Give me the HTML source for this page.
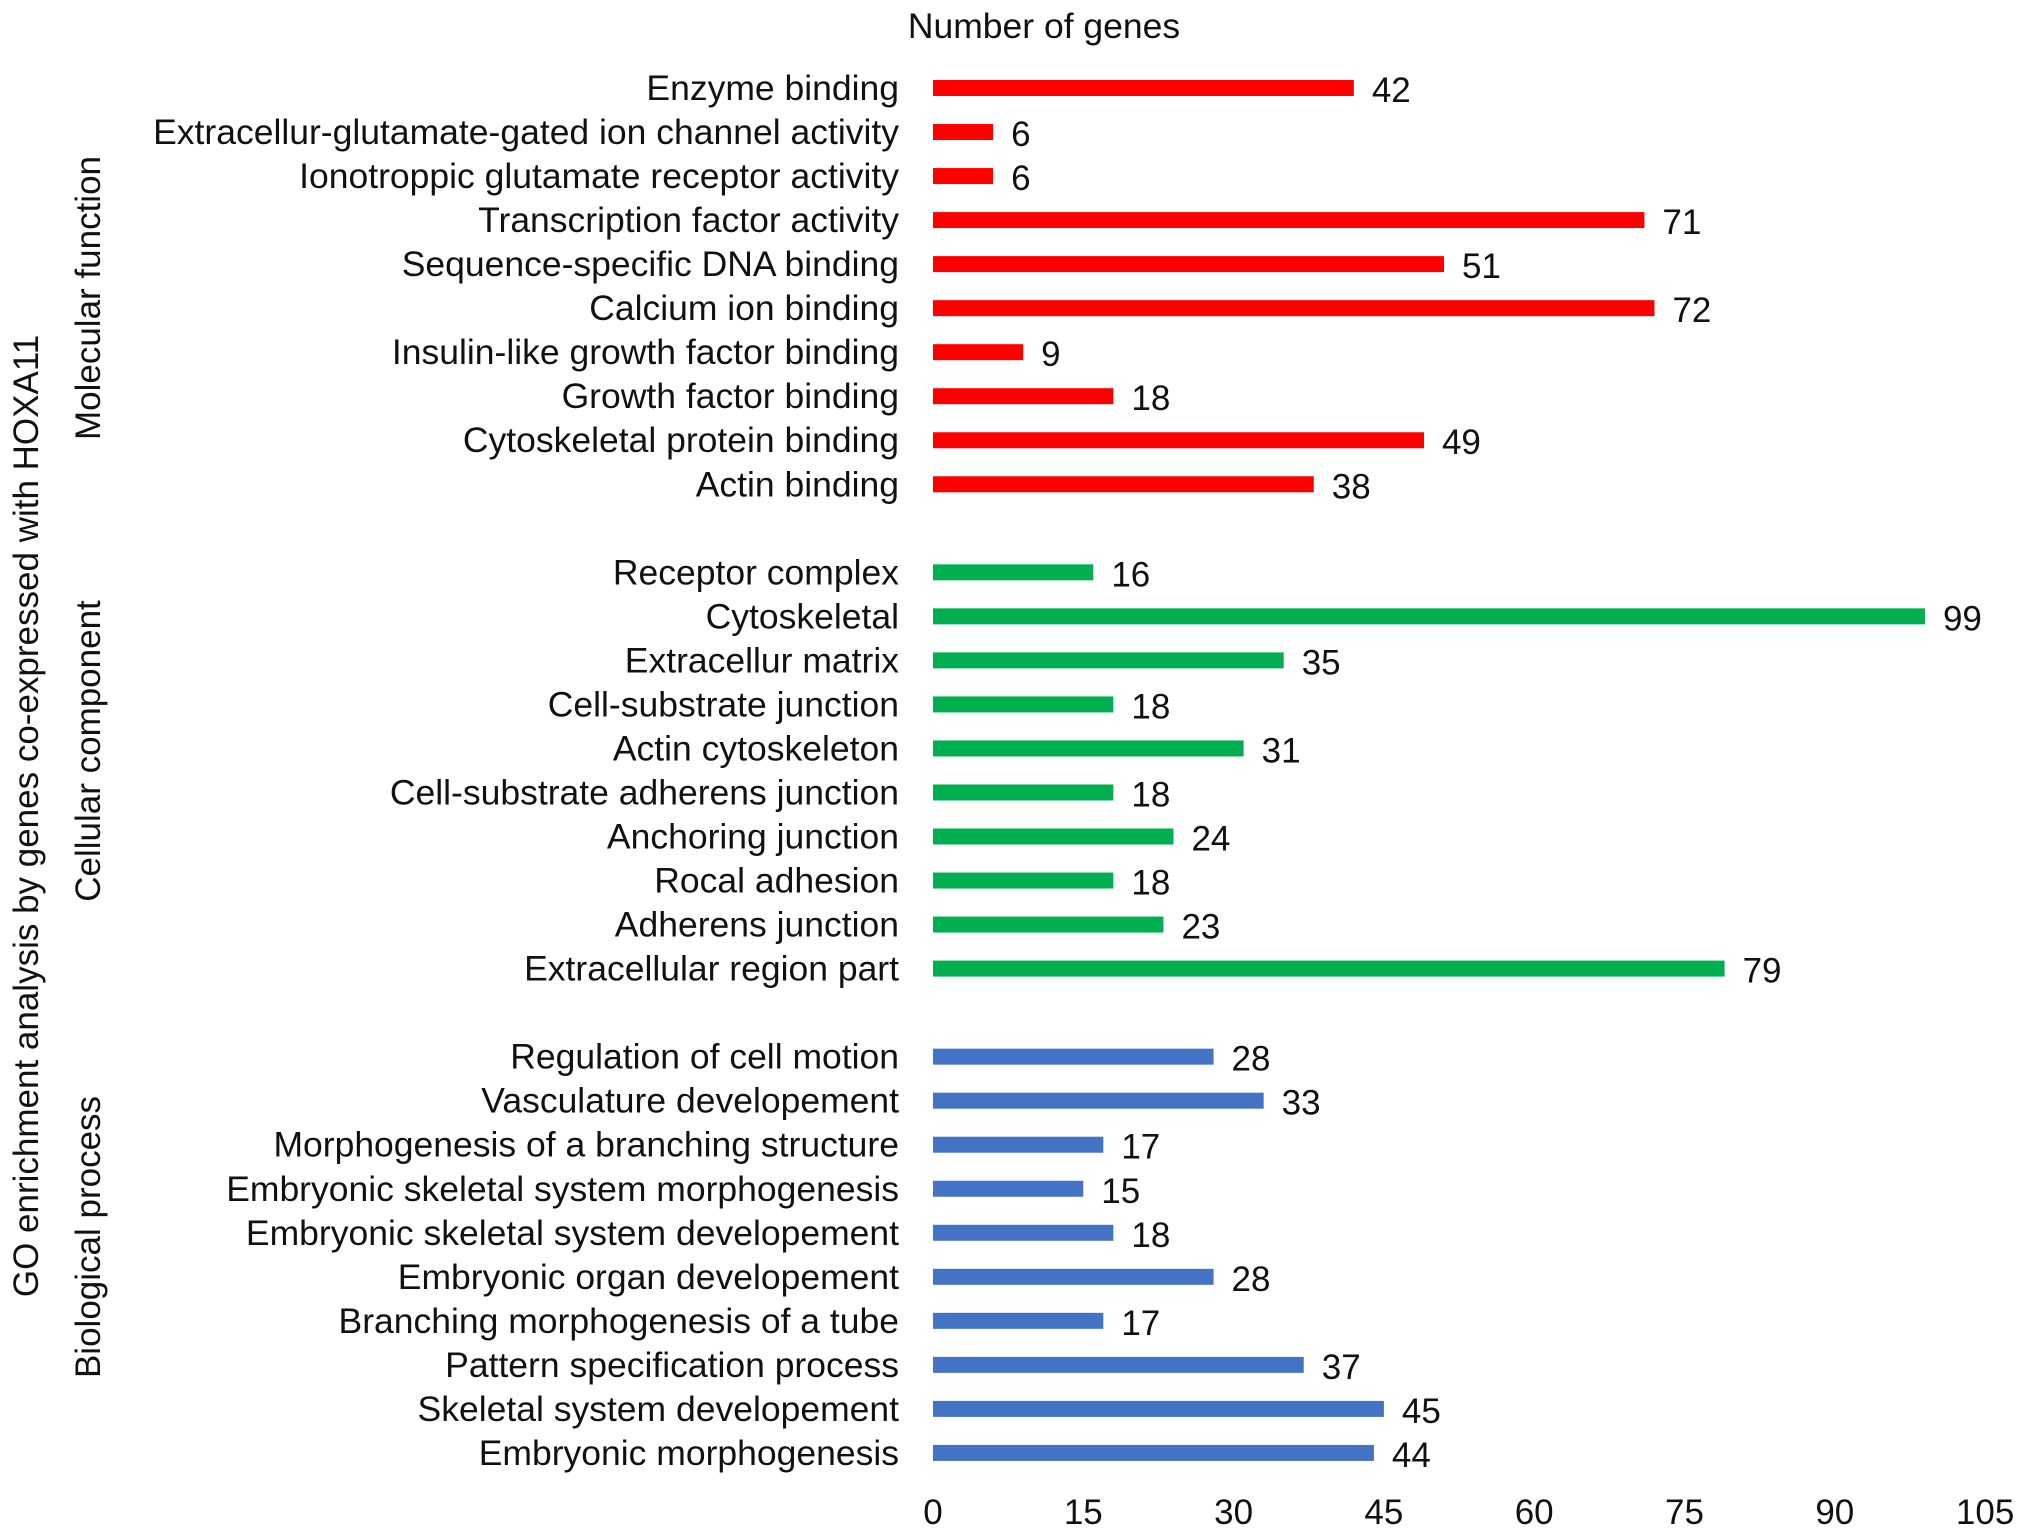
<!DOCTYPE html>
<html><head><meta charset="utf-8"><style>
html,body{margin:0;padding:0;background:#fff;}
svg{display:block;font-family:"Liberation Sans",sans-serif;}
</style></head><body>
<svg id="chart" width="2031" height="1536" viewBox="0 0 2031 1536" xmlns="http://www.w3.org/2000/svg">
<text x="1044" y="38" font-size="35.5" text-anchor="middle" fill="#111">Number of genes</text>
<text transform="translate(38,816) rotate(-90)" font-size="35" text-anchor="middle" fill="#111">GO enrichment analysis by genes co-expressed with HOXA11</text>
<text transform="translate(100,298) rotate(-90)" font-size="35" text-anchor="middle" fill="#111">Molecular function</text>
<text transform="translate(100,751) rotate(-90)" font-size="35" text-anchor="middle" fill="#111">Cellular component</text>
<text transform="translate(100,1237) rotate(-90)" font-size="35" text-anchor="middle" fill="#111">Biological process</text>
<g id="marks"></g>
</svg>
<script>
const categories = ["Enzyme binding","Extracellur-glutamate-gated ion channel activity","Ionotroppic glutamate receptor activity","Transcription factor activity","Sequence-specific DNA binding","Calcium ion binding","Insulin-like growth factor binding","Growth factor binding","Cytoskeletal protein binding","Actin binding",
"Receptor complex","Cytoskeletal","Extracellur matrix","Cell-substrate junction","Actin cytoskeleton","Cell-substrate adherens junction","Anchoring junction","Rocal adhesion","Adherens junction","Extracellular region part",
"Regulation of cell motion","Vasculature developement","Morphogenesis of a branching structure","Embryonic skeletal system morphogenesis","Embryonic skeletal system developement","Embryonic organ developement","Branching morphogenesis of a tube","Pattern specification process","Skeletal system developement","Embryonic morphogenesis"];
const values = [42,6,6,71,51,72,9,18,49,38, 16,99,35,18,31,18,24,18,23,79, 28,33,17,15,18,28,17,37,45,44];
const groups = [0,0,0,0,0,0,0,0,0,0, 1,1,1,1,1,1,1,1,1,1, 2,2,2,2,2,2,2,2,2,2];
const tickValues = [0,15,30,45,60,75,90,105];
const colors = ["#ff0000","#00b050","#4472c4"];
const NS="http://www.w3.org/2000/svg";
const x0=933, pxPer=10.02;
function xScale(v){return x0+v*pxPer;}
function yScale(i){return 88+(i+groups[i])*44.03;}
const g=document.getElementById('marks');
function mk(t,a){const e=document.createElementNS(NS,t);for(const k in a)e.setAttribute(k,a[k]);return e;}
values.forEach((v,i)=>{
  const y=yScale(i);
  const r=mk('rect',{x:x0,y:y-8,width:xScale(v)-x0,height:16,fill:colors[groups[i]]});
  
  
  g.appendChild(r);
  const lab=mk('text',{x:899,y:y+12,'font-size':35.5,'text-anchor':'end',fill:'#111'});
  
  
  lab.textContent=categories[i];g.appendChild(lab);
  const val=mk('text',{x:xScale(v)+18,y:y+14,'font-size':35,fill:'#111'});
  
  
  val.textContent=v;g.appendChild(val);
});
tickValues.forEach(t=>{
  const tx=mk('text',{x:xScale(t),y:1524,'font-size':35,'text-anchor':'middle',fill:'#111'});
  
  
  tx.textContent=t;g.appendChild(tx);
});
</script>
</body></html>
